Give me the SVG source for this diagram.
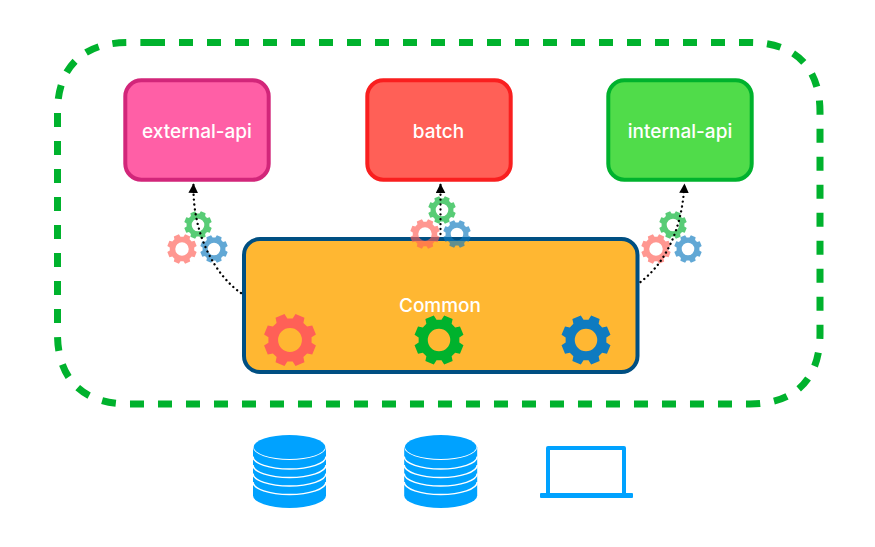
<svg xmlns="http://www.w3.org/2000/svg" width="875" height="547" viewBox="0 0 875 547">
<style>
.box{stroke-width:4}
.lbl{font-family:"Inter","Liberation Sans",Arial,sans-serif;font-size:19px;font-weight:500;fill:#fff;text-anchor:middle}
.conn{fill:none;stroke:#000;stroke-width:2.300;stroke-linecap:round;stroke-dasharray:0.1 4.800}
.small{opacity:.65}
.arc{fill:none;stroke:#fff;stroke-width:1.500}
</style>
<defs>
<path id="gear" fill-rule="evenodd" d="M81.400,10L97.800,20.800L83.900,54.500L64.600,50.500L50.500,64.600L54.500,83.900L20.800,97.800L10,81.400L-10,81.400L-20.800,97.800L-54.500,83.900L-50.500,64.600L-64.600,50.500L-83.900,54.500L-97.800,20.800L-81.400,10L-81.400,-10L-97.800,-20.800L-83.900,-54.500L-64.600,-50.500L-50.500,-64.600L-54.500,-83.900L-20.800,-97.800L-10,-81.400L10,-81.400L20.800,-97.800L54.500,-83.900L50.500,-64.600L64.600,-50.500L83.900,-54.500L97.800,-20.800L81.400,-10ZM45,0A45,45 0 1 0 -45,0A45,45 0 1 0 45,0Z"/>
<marker id="arrow" markerUnits="userSpaceOnUse" markerWidth="10" markerHeight="10" refX="9.500" refY="5" orient="auto"><path d="M0,0.200L9.500,5L0,9.800Z" fill="#000"/></marker>
<g id="db">
<path d="M-36.500,0H36.500V48.500A36.500,12.500 0 0 1 -36.500,48.500Z" fill="#00a2ff"/>
<path class="arc" d="M-36.500,35A36.500,12.500 0 0 0 36.500,35"/>
<path class="arc" d="M-36.500,26.500A36.500,12.500 0 0 0 36.500,26.500"/>
<path class="arc" d="M-36.500,18A36.500,12.500 0 0 0 36.500,18"/>
<path class="arc" d="M-36.500,9.500A36.500,12.500 0 0 0 36.500,9.500"/>
<ellipse cx="0" cy="0" rx="36.500" ry="13" fill="#fff"/>
<ellipse cx="0" cy="0" rx="35.800" ry="12" fill="#00a2ff"/>
</g>
</defs>
<g id="boundary"><path d="M151,42.500H750C795,42.500 820,67 820,112V334C820,379 795,404 750,404H128C83,404 57.500,379 57.500,334V112C57.500,67 83,42.500 128,42.500Z" fill="none" stroke="#00b22d" stroke-width="7" stroke-dasharray="14 14"/></g>
<g id="external-api"><rect class="box" x="125.300" y="80.300" width="143.400" height="99.400" rx="16" fill="#ff5fa6" stroke="#d2267a"/><text class="lbl" x="197" y="137.500">external-api</text></g>
<g id="batch"><rect class="box" x="367.300" y="80.300" width="143.400" height="99.400" rx="16" fill="#ff6057" stroke="#f91f1f"/><text class="lbl" x="438.500" y="137.500">batch</text></g>
<g id="internal-api"><rect class="box" x="608.300" y="80.300" width="143.400" height="99.400" rx="16" fill="#50dc4a" stroke="#00b22d"/><text class="lbl" x="680" y="137.500">internal-api</text></g>
<g id="common"><rect class="box" x="244" y="239" width="393.500" height="133" rx="16" fill="#ffb732" stroke="#004f82"/><text class="lbl" x="440" y="311.500">Common</text>
<use href="#gear" transform="translate(290 340) scale(.265)" fill="#ff6057"/>
<use href="#gear" transform="translate(439 340) scale(.25)" fill="#00b22d"/>
<use href="#gear" transform="translate(586 340) scale(.25)" fill="#0f7bc0"/></g>
<g id="gears-left" class="small">
<use href="#gear" transform="translate(198 225) scale(.14)" fill="#00b22d"/>
<use href="#gear" transform="translate(182 249) scale(.15)" fill="#ff6057"/>
<use href="#gear" transform="translate(214 249) scale(.14)" fill="#0f7bc0"/></g>
<g id="gears-center" class="small">
<use href="#gear" transform="translate(442 210) scale(.14)" fill="#00b22d"/>
<use href="#gear" transform="translate(425 234) scale(.15)" fill="#ff6057"/>
<use href="#gear" transform="translate(457 234) scale(.14)" fill="#0f7bc0"/></g>
<g id="gears-right" class="small">
<use href="#gear" transform="translate(673 225) scale(.14)" fill="#00b22d"/>
<use href="#gear" transform="translate(656 249) scale(.15)" fill="#ff6057"/>
<use href="#gear" transform="translate(688 249) scale(.14)" fill="#0f7bc0"/></g>
<g id="connectors">
<path class="conn" d="M241,293C216,276 192,235 193.500,183.500" marker-end="url(#arrow)"/>
<path class="conn" d="M440.500,234V183.500" marker-end="url(#arrow)"/>
<path class="conn" d="M640.500,282C664,264 682,232 684.500,183.500" marker-end="url(#arrow)"/>
</g>
<g id="database-1"><use href="#db" transform="translate(289.500 447)"/></g>
<g id="database-2"><use href="#db" transform="translate(440.700 447)"/></g>
<g id="laptop"><path d="M548,495V448H624V495" fill="none" stroke="#00a2ff" stroke-width="4" stroke-linejoin="round"/><rect x="540" y="493" width="93" height="5" rx="1" fill="#00a2ff"/></g>
</svg>
